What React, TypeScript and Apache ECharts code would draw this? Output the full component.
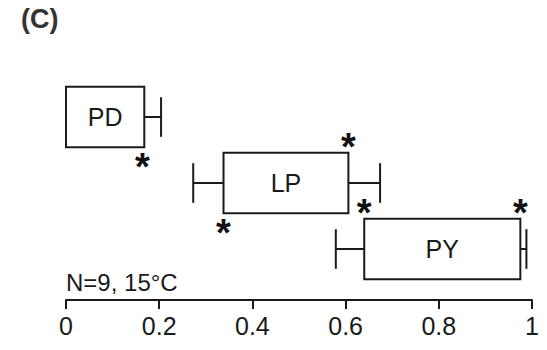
import React, { useEffect, useRef } from "react";
import * as echarts from "echarts";

const categories = ["PD", "LP", "PY"];
const whiskerLow = [0, 0.273, 0.579];
const q1 = [0, 0.338, 0.64];
const q3 = [0.168, 0.606, 0.975];
const whiskerHigh = [0.204, 0.674, 0.988];

// asterisks: category index, x value, side (1 = above box, -1 = below box)
const starCat = [0, 1, 1, 2, 2];
const starX = [0.164, 0.606, 0.338, 0.64, 0.975];
const starSide = [-1, 1, -1, 1, 1];

const xTicks = [0, 0.2, 0.4, 0.6, 0.8, 1];
const note = "N=9, 15°C";
const panel = "(C)";

const FONT = "'Liberation Sans', Arial, Helvetica, sans-serif";
const INK = "#1a1a1a";

export default function App() {
  const ref = useRef<HTMLDivElement>(null);
  useEffect(() => {
    if (!ref.current) return;
    const chart = echarts.init(ref.current, null, { renderer: "svg" });
    const boxData = categories.map((c, i) => [i, whiskerLow[i], q1[i], q3[i], whiskerHigh[i]]);
    const starData = starCat.map((c, i) => [c, starX[i], starSide[i]]);
    chart.setOption({
      animation: false,
      grid: { left: 66, right: 15, top: 84, bottom: 68 },
      title: {
        text: panel,
        left: 16,
        top: 0,
        textStyle: { fontFamily: FONT, fontWeight: "bold", fontSize: 27, color: "#333" },
      },
      graphic: [
        {
          type: "text",
          left: 66,
          top: 270,
          style: { text: note, font: `24px ${FONT}`, fill: INK },
        },
      ],
      xAxis: {
        type: "value",
        min: xTicks[0],
        max: xTicks[xTicks.length - 1],
        interval: 0.2,
        offset: 18,
        splitLine: { show: false },
        axisLine: { show: true, lineStyle: { color: INK, width: 2 } },
        axisTick: { show: true, length: 9, lineStyle: { color: INK, width: 2 } },
        axisLabel: { fontFamily: FONT, fontSize: 25, color: INK, margin: 13 },
      },
      yAxis: {
        type: "category",
        data: categories,
        inverse: true,
        show: false,
      },
      series: [
        {
          type: "custom",
          data: boxData,
          encode: { x: [1, 2, 3, 4], y: 0 },
          renderItem: (params: any, api: any) => {
            const cat = api.value(0);
            const lo = api.coord([api.value(1), cat]);
            const a = api.coord([api.value(2), cat]);
            const b = api.coord([api.value(3), cat]);
            const hi = api.coord([api.value(4), cat]);
            const band = api.size([0, 1])[1];
            const boxH = band * 0.92;
            const capH = band * 0.6;
            const cy = a[1];
            const st = { stroke: INK, lineWidth: 2, fill: "none" };
            const children: any[] = [
              {
                type: "rect",
                shape: { x: a[0], y: cy - boxH / 2, width: b[0] - a[0], height: boxH },
                style: st,
              },
              {
                type: "text",
                x: (a[0] + b[0]) / 2,
                y: cy,
                style: {
                  text: categories[cat],
                  font: `25px ${FONT}`,
                  fill: INK,
                  align: "center",
                  verticalAlign: "middle",
                },
              },
            ];
            if (lo[0] < a[0] - 0.5) {
              children.push({ type: "line", shape: { x1: lo[0], y1: cy, x2: a[0], y2: cy }, style: st });
              children.push({ type: "line", shape: { x1: lo[0], y1: cy - capH / 2, x2: lo[0], y2: cy + capH / 2 }, style: st });
            }
            if (hi[0] > b[0] + 0.5) {
              children.push({ type: "line", shape: { x1: b[0], y1: cy, x2: hi[0], y2: cy }, style: st });
              children.push({ type: "line", shape: { x1: hi[0], y1: cy - capH / 2, x2: hi[0], y2: cy + capH / 2 }, style: st });
            }
            return { type: "group", children };
          },
        },
        {
          type: "custom",
          data: starData,
          encode: { x: 1, y: 0 },
          renderItem: (params: any, api: any) => {
            const cat = api.value(0);
            const p = api.coord([api.value(1), cat]);
            const side = api.value(2);
            const band = api.size([0, 1])[1];
            const boxH = band * 0.92;
            const edge = side > 0 ? p[1] - boxH / 2 : p[1] + boxH / 2;
            const cy = side > 0 ? edge - 11 : edge + 15;
            return {
              type: "text",
              x: p[0],
              y: cy + 5,
              style: {
                text: "*",
                font: `bold 38px ${FONT}`,
                fill: "#111",
                align: "center",
                verticalAlign: "middle",
              },
            };
          },
        },
      ],
    });
    return () => chart.dispose();
  }, []);
  return <div ref={ref} style={{ width: 547, height: 350, position: "absolute", left: 0, top: 0 }} />;
}
